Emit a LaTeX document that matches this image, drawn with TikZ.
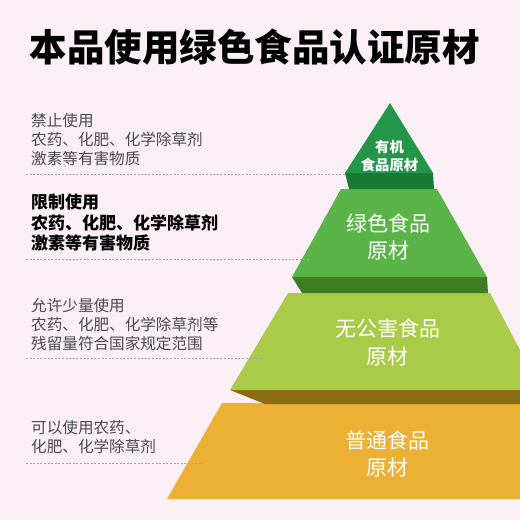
\documentclass[tikz,border=0pt]{standalone}
\usepackage{fontspec}
\newfontfamily\cjk{Noto Sans CJK SC}
\definecolor{bgpink}{HTML}{FBEFF6}
\definecolor{graytxt}{HTML}{4A4A4A}
\definecolor{dashgray}{HTML}{A8A4A6}
\definecolor{topgreen}{HTML}{23964A}
\definecolor{topband}{HTML}{187A34}
\definecolor{midgreen}{HTML}{5AB447}
\definecolor{midband}{HTML}{3E7E22}
\definecolor{lime}{HTML}{AACB48}
\definecolor{limeband}{HTML}{8A6C14}
\definecolor{orange}{HTML}{ECB035}
\tikzset{
  title/.style={font=\cjk\bfseries\fontsize{37.5}{40}\selectfont, text=black, inner sep=0pt, anchor=base},
  lbl/.style={font=\cjk\fontsize{15.6}{19}\selectfont, text=graytxt, inner sep=0pt, anchor=base west},
  lblb/.style={font=\cjk\bfseries\fontsize{17}{20}\selectfont, text=black, inner sep=0pt, anchor=base west},
  tierS/.style={font=\cjk\bfseries\fontsize{14.3}{16}\selectfont, text=white, inner sep=0pt, anchor=base},
  tierL/.style={font=\cjk\fontsize{21}{24}\selectfont, text=white, inner sep=0pt, anchor=base},
  sep/.style={draw=dashgray, line width=0.7pt, dash pattern=on 2pt off 1.6pt}
}
\begin{document}
\begin{tikzpicture}[x=1pt,y=-1pt]
\useasboundingbox (0,0) rectangle (520,520);
\fill[bgpink] (0,0) rectangle (520,520);
\clip (0,0) rectangle (520,520);

% title
\node[title] (title) at (255,61) {本品使用绿色食品认证原材};

% pyramid tiers (bands first, then faces on top, bottom tier first)
\fill[orange] (222,403) -- (560,403) -- (560,499) -- (167,499) -- cycle;
\fill[limeband] (230,390) -- (545,390) -- (545,404) -- (265,404) -- cycle;
\fill[lime] (288,293) -- (490,293) -- (541,390) -- (230,390) -- cycle;
\fill[midband] (292,277) -- (487,277) -- (488,293) -- (302,293) -- cycle;
\fill[midgreen] (341,189) -- (437,189) -- (487,277) -- (292,277) -- cycle;
\fill[topband] (345,173) -- (433,173) -- (434,189) -- (349,189) -- cycle;
\fill[topgreen] (390,103) -- (433,173) -- (345,173) -- cycle;

% edge points for dashed separators
\coordinate (e1) at (346,174);
\coordinate (e2) at (309,259);
\coordinate (e3) at (265,358);
\coordinate (e4) at (203,463);
\coordinate (s1) at (26,174);
\coordinate (s2) at (26,259);
\coordinate (s3) at (26,358);
\coordinate (s4) at (26,463);
\draw[sep] (s1) -- (e1);
\draw[sep] (s2) -- (e2);
\draw[sep] (s3) -- (e3);
\draw[sep] (s4) -- (e4);

% tier labels
\node[tierS] (t1a) at (389.5,152.5) {有机};
\node[tierS] (t1b) at (389.5,170.5) {食品原材};
\node[tierL] (t2a) at (388.5,231) {绿色食品};
\node[tierL] (t2b) at (388.5,258) {原材};
\node[tierL] (t3a) at (387.5,336) {无公害食品};
\node[tierL] (t3b) at (387.5,364) {原材};
\node[tierL] (t4a) at (387.5,448) {普通食品};
\node[tierL] (t4b) at (387.5,475) {原材};

% left descriptions
\node[lbl] (a1) at (31,126) {禁止使用};
\node[lbl] (a2) at (31,145) {农药、化肥、化学除草剂};
\node[lbl] (a3) at (31,164) {激素等有害物质};
\node[lblb] (b1) at (31,208.5) {限制使用};
\node[lblb] (b2) at (31,229.5) {农药、化肥、化学除草剂};
\node[lblb] (b3) at (31,249.5) {激素等有害物质};
\node[lbl] (c1) at (31,311) {允许少量使用};
\node[lbl] (c2) at (31,330) {农药、化肥、化学除草剂等};
\node[lbl] (c3) at (31,349) {残留量符合国家规定范围};
\node[lbl] (d1) at (31,433) {可以使用农药、};
\node[lbl] (d2) at (31,452) {化肥、化学除草剂};
\end{tikzpicture}
\end{document}
